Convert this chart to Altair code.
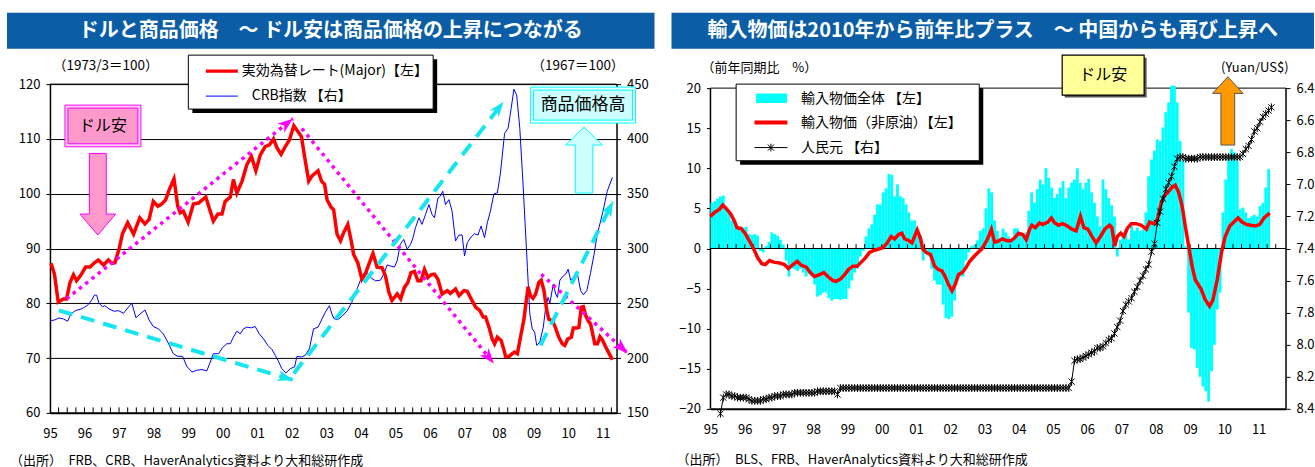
import math
import altair as alt
import pandas as pd

FONT = "Noto Sans CJK JP"
HEAD_BLUE = "#0B5EA6"
MAGENTA = "#FF00FF"
CYAN = "#14E6F0"

# ---------------------------------------------------------------
# Left panel: dollar effective rate (Major, 1973/3=100) and CRB index
# ---------------------------------------------------------------
usd_t = [1995.03, 1995.13, 1995.24, 1995.39, 1995.48, 1995.58, 1995.68, 1995.77, 1995.90,
         1996.03, 1996.16, 1996.29, 1996.40, 1996.55, 1996.69, 1996.79, 1996.88,
         1997.00, 1997.10, 1997.25, 1997.42, 1997.60, 1997.75, 1997.87, 1997.99,
         1998.12, 1998.23, 1998.35, 1998.45, 1998.59, 1998.70, 1998.77, 1998.86,
         1999.00, 1999.15, 1999.30, 1999.51, 1999.64, 1999.73, 1999.86, 1999.98,
         2000.07, 2000.22, 2000.31, 2000.41, 2000.56, 2000.70, 2000.83, 2000.96,
         2001.09, 2001.23, 2001.35, 2001.47, 2001.57, 2001.69, 2001.81, 2001.93,
         2002.06, 2002.15, 2002.28, 2002.37, 2002.49, 2002.58, 2002.76, 2002.86, 2002.95,
         2003.02, 2003.14, 2003.21, 2003.31, 2003.41, 2003.50, 2003.62, 2003.72, 2003.79, 2003.91,
         2004.03, 2004.13, 2004.23, 2004.35, 2004.47, 2004.61, 2004.71, 2004.81, 2004.90,
         2005.05, 2005.15, 2005.26, 2005.36, 2005.45, 2005.55, 2005.65, 2005.74, 2005.84, 2005.94,
         2006.03, 2006.13, 2006.23, 2006.35, 2006.50, 2006.59, 2006.74, 2006.84, 2006.98,
         2007.08, 2007.19, 2007.32, 2007.44, 2007.54, 2007.61, 2007.71, 2007.80, 2007.87, 2007.95,
         2008.06, 2008.14, 2008.19, 2008.29, 2008.38, 2008.45, 2008.53, 2008.62, 2008.72, 2008.84,
         2008.91, 2008.98, 2009.06, 2009.15, 2009.22, 2009.30, 2009.38, 2009.44, 2009.54, 2009.61,
         2009.73, 2009.83, 2009.90, 2009.99, 2010.09, 2010.15, 2010.25, 2010.31, 2010.38, 2010.44,
         2010.51, 2010.58, 2010.65, 2010.77, 2010.85, 2010.92, 2010.99, 2011.09, 2011.18, 2011.28]
usd_v = [87.3, 85.3, 80.2, 80.8, 80.8, 83.8, 85.2, 84.1, 85.2,
         86.6, 86.6, 87.4, 87.9, 87.0, 87.9, 87.3, 87.4,
         89.9, 92.7, 94.7, 92.6, 95.6, 94.5, 95.3, 98.6,
         97.7, 98.1, 98.9, 100.7, 102.7, 97.7, 96.5, 96.8,
         94.8, 98.1, 98.3, 99.4, 96.8, 95.0, 96.3, 96.3,
         98.6, 99.4, 102.6, 100.1, 102.3, 105.3, 106.8, 104.2,
         107.1, 108.6, 108.9, 110.0, 108.4, 107.2, 108.6, 109.8,
         112.4, 111.6, 110.4, 106.8, 102.3, 103.2, 104.2, 102.3, 101.7,
         98.9, 97.5, 97.1, 92.6, 91.4, 92.9, 94.4, 91.4, 88.9, 87.4,
         84.4, 85.4, 87.1, 89.1, 86.6, 86.5, 85.0, 82.0, 80.5,
         81.7, 80.8, 82.9, 83.8, 85.6, 85.8, 84.1, 84.1, 86.2, 84.7,
         85.2, 85.3, 84.4, 81.7, 82.3, 81.8, 82.6, 81.4, 82.3,
         82.2, 80.8, 79.3, 78.7, 77.5, 77.5, 75.6, 73.5, 72.6, 73.8,
         73.2, 71.5, 70.3, 70.3, 70.8, 71.1, 70.8, 73.8, 77.1, 83.0,
         81.3, 80.9, 81.7, 83.8, 84.2, 82.3, 78.7, 77.1, 76.8, 75.9,
         73.8, 72.6, 72.3, 73.5, 73.8, 75.5, 75.5, 75.6, 79.3, 79.4,
         77.7, 76.8, 76.2, 72.6, 72.6, 73.9, 73.3, 72.0, 70.9, 69.7]

crb_t = [1995.03, 1995.14, 1995.26, 1995.39, 1995.51, 1995.61, 1995.74, 1995.90,
         1996.00, 1996.11, 1996.21, 1996.29, 1996.35, 1996.42, 1996.52, 1996.59, 1996.71, 1996.86, 1996.98,
         1997.13, 1997.25, 1997.37, 1997.49, 1997.61, 1997.75, 1997.87, 1997.99,
         1998.14, 1998.28, 1998.41, 1998.57, 1998.70, 1998.84, 1998.96,
         1999.11, 1999.25, 1999.40, 1999.54, 1999.64, 1999.73, 1999.88, 1999.99,
         2000.12, 2000.22, 2000.31, 2000.41, 2000.51, 2000.60, 2000.70, 2000.83, 2000.94,
         2001.06, 2001.18, 2001.31, 2001.43, 2001.52, 2001.60, 2001.71, 2001.83, 2001.96,
         2002.08, 2002.15, 2002.28, 2002.39, 2002.51, 2002.63, 2002.76, 2002.86, 2002.97,
         2003.09, 2003.16, 2003.22, 2003.33, 2003.45, 2003.60, 2003.74, 2003.87, 2003.98,
         2004.08, 2004.18, 2004.28, 2004.42, 2004.57, 2004.68, 2004.76, 2004.86, 2004.97,
         2005.05, 2005.14, 2005.24, 2005.34, 2005.44, 2005.51, 2005.58, 2005.68, 2005.77, 2005.87, 2005.97,
         2006.06, 2006.13, 2006.23, 2006.30, 2006.37, 2006.45, 2006.55, 2006.64, 2006.74, 2006.84, 2006.93,
         2007.00, 2007.08, 2007.19, 2007.29, 2007.39, 2007.48, 2007.58, 2007.66, 2007.75, 2007.85, 2007.95,
         2008.04, 2008.16, 2008.26, 2008.35, 2008.43, 2008.51, 2008.60, 2008.70, 2008.82, 2008.89, 2008.96,
         2009.03, 2009.09, 2009.18, 2009.28, 2009.35, 2009.42, 2009.47, 2009.57, 2009.64, 2009.69,
         2009.76, 2009.86, 2009.93, 2010.00, 2010.07, 2010.17, 2010.27, 2010.36, 2010.44, 2010.54,
         2010.65, 2010.75, 2010.84, 2010.94, 2011.04, 2011.13, 2011.28]
crb_v = [234.2, 234.8, 236.6, 235.7, 233.6, 240.3, 243.3, 244.8,
         246.3, 248.8, 253.0, 257.5, 257.5, 250.0, 246.9, 247.8, 244.8, 242.7, 243.3,
         240.9, 245.7, 250.0, 236.7, 240.3, 243.9, 234.8, 228.8,
         226.7, 222.1, 214.6, 204.0, 201.6, 201.6, 192.5,
         187.3, 188.9, 189.5, 188.3, 196.4, 204.0, 204.0, 209.4,
         213.1, 213.1, 219.1, 224.6, 222.1, 226.7, 228.2, 227.6, 228.8,
         222.1, 217.6, 211.5, 207.6, 202.5, 197.9, 190.4, 186.4, 190.4,
         191.9, 201.6, 201.0, 202.5, 208.5, 226.7, 228.2, 234.8, 241.8,
         247.8, 240.3, 236.0, 235.0, 238.0, 243.0, 251.0, 261.5, 270.5,
         277.0, 278.0, 273.6, 270.5, 271.1, 278.0, 285.0, 284.0, 283.0,
         288.7, 303.8, 308.3, 299.3, 303.8, 309.9, 318.9, 328.0, 322.0, 331.0, 340.0,
         331.0, 328.0, 346.0, 347.7, 352.2, 340.0, 344.6, 334.0, 306.8, 312.3, 312.3,
         293.2, 305.3, 310.5, 313.5, 312.3, 320.4, 309.9, 323.5, 334.0, 349.8, 350.7,
         368.8, 405.1, 409.7, 427.8, 445.4, 439.9, 409.7, 355.2, 282.6, 240.3, 226.7,
         223.6, 211.5, 214.6, 228.2, 246.3, 255.4, 250.0, 267.5, 258.4, 255.4,
         271.1, 275.1, 276.6, 281.1, 271.1, 274.2, 276.6, 261.5, 257.8, 261.5,
         278.0, 294.7, 312.9, 325.0, 338.6, 352.2, 364.9]

# trend arrows drawn over the lines (start/end in left-axis units)
trend_id = ["usd_up", "usd_down", "usd_down2", "crb_down", "crb_up", "crb_up2"]
trend_kind = ["usd", "usd", "usd", "crb", "crb", "crb"]
trend_t0 = [1995.48, 2002.29, 2009.22, 1995.26, 2002.06, 2009.20]
trend_v0 = [80.8, 111.9, 85.3, 78.7, 67.2, 72.3]
trend_t1 = [2002.03, 2007.85, 2011.72, 2002.03, 2008.13, 2011.30]
trend_v1 = [113.7, 69.0, 70.9, 66.0, 116.8, 98.6]

# ---------------------------------------------------------------
# Right panel: US import prices (y/y %) and the yuan (Yuan/US$)
# ---------------------------------------------------------------
imp_total = [  # monthly from Jan 1995
    5.7, 5.9, 6.2, 6.5, 6.6, 5.0, 4.5, 3.5, 3.2, 2.8, 2.7, 2.6,
    2.7, 1.8, 1.7, 1.8, 1.6, -0.3, -0.5, 0.3, 0.8, 2.0, 1.8, 1.6,
    1.1, 0.5, -1.5, -3.5, -2.5, -2.6, -2.8, -2.5, -3.0, -3.5, -3.2, -3.5,
    -4.5, -6.0, -5.8, -5.5, -5.5, -6.2, -6.5, -6.3, -6.3, -6.4, -6.3, -6.3,
    -5.0, -4.0, -3.0, -2.5, -1.0, -0.3, 1.5, 2.5, 3.0, 4.2, 5.5, 5.5,
    7.0, 7.5, 9.3, 9.2, 6.5, 8.0, 6.5, 6.3, 5.5, 4.5, 3.5, 3.5,
    1.5, 1.7, -1.5, -0.5, -1.0, -2.5, -4.0, -4.5, -4.5, -7.0, -8.7, -8.8,
    -8.5, -6.5, -4.0, -3.5, -3.5, -1.5, -0.5, 0.3, 0.5, 1.0, 2.2, 2.5,
    5.0, 7.5, 7.0, 3.5, 2.2, 1.3, 2.5, 2.0, 1.5, 1.2, 2.5, 2.5,
    2.0, 1.5, 2.0, 4.7, 7.0, 5.7, 7.4, 8.6, 8.0, 10.0, 8.8, 7.6,
    6.3, 6.8, 7.6, 8.4, 6.3, 7.6, 8.2, 8.6, 10.0, 8.2, 7.4, 8.2,
    8.7, 7.0, 5.7, 4.0, 2.8, 8.6, 7.4, 6.3, 5.4, 4.0, -1.0, 1.1,
    2.0, 2.4, 1.1, 2.8, 2.2, 2.6, 2.2, 2.4, 4.5, 9.0, 11.1, 12.2,
    13.6, 13.4, 15.1, 17.0, 18.2, 20.3, 20.3, 18.2, 13.4, 10.9, 0.3, -8.0,
    -12.4, -12.6, -14.9, -16.0, -17.2, -17.8, -19.1, -15.3, -12.0, -7.6, -5.5, 4.5,
    8.6, 11.1, 12.4, 12.0, 10.9, 4.9, 5.1, 4.5, 3.8, 4.0, 4.2, 4.0,
    5.3, 5.7, 7.6, 9.9,
]

nonoil_m = [0, 1.4, 3.2, 4.3, 5.5, 7.2, 8.4, 9.3, 10.7, 12.1, 13.7, 15.2, 16.6, 18, 19.2,
            20.7, 22.2, 24.2, 25.9, 27.3, 28.9, 30.4, 31.8, 33.5, 35, 36.4, 38.2, 39.7,
            41.1, 42.9, 44, 45.6, 47, 48.4, 49.9, 51.4, 52.8, 54.2, 55.7, 57.2, 58.6,
            60.4, 61.9, 63.3, 64.5, 65.9, 67, 68, 69.4, 70.6, 72.4, 73.6, 74.4, 75.6,
            77.1, 78.5, 79.7, 81.1, 82.2, 83.4, 84.6, 85.7, 86.9, 88.1, 89.3, 90.8,
            92.3, 93.7, 94.9, 96, 97.2, 98.4, 99.5, 100.7, 102.1, 103.6, 105.1, 106.5,
            107.9, 109.4, 110.6, 111.8, 112.6, 113.8, 115.3, 116.4, 118.2, 119.4, 120.5,
            121.9, 123.4, 125, 126.6, 128.1, 129.6, 130.8, 132.2, 133.6, 135.1, 136.6,
            138.1, 139.8, 140.6, 141.6, 142.5, 143.7, 144.8, 146, 147.4, 149.1, 150.9,
            152.7, 153.8, 155.3, 156.5, 157.9, 159.1, 160.2, 161.6, 162.8, 164, 165.2,
            166.3, 167.5, 168.7, 169.8, 171.9, 173.3, 174.8, 176, 177.5, 179, 180.3,
            181.9, 183.6, 184.8, 186.2, 187.7, 189.2, 190.9, 192.4, 193.9, 195.9]
nonoil_v = [4.0, 4.5, 4.9, 5.4, 5.0, 4.25, 3.4, 2.6, 2.5, 1.9, 0.9, -0.1, -1.2, -1.9, -2.0,
            -1.5, -1.7, -1.8, -2.0, -2.5, -2.0, -1.6, -2.1, -2.3, -3.0, -3.5, -3.25, -3.0,
            -3.5, -4.0, -4.1, -3.8, -3.25, -2.6, -2.2, -2.2, -1.7, -1.2, -0.5, -0.25, -0.1,
            0.1, 0.7, 1.5, 1.2, 1.75, 1.9, 1.2, 1.0, 0.7, 2.3, 1.2, -0.1, -0.5,
            -0.75, -2.2, -2.6, -2.8, -3.5, -4.5, -5.3, -4.5, -3.25, -3.0, -2.5, -1.6,
            -1.0, -0.5, -0.1, 0.5, 1.3, 2.4, 0.8, 0.9, 1.2, 1.0, 0.95, 1.3,
            1.9, 1.75, 1.1, 2.4, 2.9, 2.6, 3.2, 3.0, 3.3, 3.8, 3.2,
            2.9, 3.1, 2.8, 2.4, 2.2, 4.0, 2.6, 2.4, 1.5, 0.7, 1.5,
            2.4, 2.9, 2.6, 0.3, 1.5, 1.9, 1.5, 2.5, 3.1, 3.1, 2.9,
            2.4, 3.3, 3.1, 3.6, 5.7, 6.6, 7.0, 7.6, 7.9, 7.0, 5.3,
            2.8, 0.3, -2.2, -3.9, -5.1, -6.4, -7.2, -6.4, -3.9, -0.5, 1.5,
            2.8, 3.4, 3.8, 3.3, 3.0, 2.9, 2.8, 3.0, 3.8, 4.4]

rmb_first_month = 3  # series starts in Apr 1995
rmb = [
    8.43, 8.33, 8.31, 8.31, 8.32, 8.32, 8.33, 8.33, 8.33,
    8.33, 8.34, 8.35, 8.35, 8.35, 8.35, 8.34, 8.34, 8.33, 8.33, 8.32, 8.32,
    8.32, 8.31, 8.31, 8.31, 8.31, 8.30, 8.30, 8.30, 8.30, 8.30, 8.30, 8.30,
    8.30, 8.29, 8.29, 8.29, 8.29, 8.29, 8.29, 8.29, 8.31, 8.27, 8.27, 8.27,
    8.27, 8.27, 8.27, 8.27, 8.27, 8.27, 8.27, 8.27, 8.27, 8.27, 8.27, 8.27,
    8.27, 8.27, 8.27, 8.27, 8.27, 8.27, 8.27, 8.27, 8.27, 8.27, 8.27, 8.27,
    8.27, 8.27, 8.27, 8.27, 8.27, 8.27, 8.27, 8.27, 8.27, 8.27, 8.27, 8.27,
    8.27, 8.27, 8.27, 8.27, 8.27, 8.27, 8.27, 8.27, 8.27, 8.27, 8.27, 8.27,
    8.27, 8.27, 8.27, 8.27, 8.27, 8.27, 8.27, 8.27, 8.27, 8.27, 8.27, 8.27,
    8.27, 8.27, 8.27, 8.27, 8.27, 8.27, 8.27, 8.27, 8.27, 8.27, 8.27, 8.27,
    8.27, 8.27, 8.27, 8.27, 8.27, 8.27, 8.23, 8.10, 8.09, 8.09, 8.08, 8.07,
    8.06, 8.05, 8.04, 8.02, 8.02, 8.01, 7.99, 7.97, 7.96, 7.93, 7.89, 7.85,
    7.79, 7.75, 7.73, 7.71, 7.67, 7.64, 7.60, 7.57, 7.53, 7.50, 7.42, 7.37,
    7.24, 7.17, 7.09, 7.03, 6.99, 6.95, 6.89, 6.84, 6.83, 6.83, 6.84, 6.84,
    6.84, 6.84, 6.84, 6.83, 6.83, 6.83, 6.83, 6.83, 6.83, 6.83, 6.83, 6.83,
    6.83, 6.83, 6.83, 6.83, 6.83, 6.83, 6.81, 6.78, 6.76, 6.72, 6.67, 6.65,
    6.61, 6.58, 6.56, 6.54, 6.52,
]

YEARS = list(range(1995, 2012))

# ---------------------------------------------------------------
# geometry of the two plot areas (pixels)
# ---------------------------------------------------------------
LW, LH = 567, 329
RW, RH = 576, 321
R_TOP = 4                       # right frame starts this far below the view top
RH_VIEW = RH + R_TOP
R_EXTRA = R_TOP * 40.0 / RH     # value units above +20 that fill that strip

XL = alt.Scale(domain=[1995, 2011.4], nice=False, zero=False)
YL = alt.Scale(domain=[60, 120], nice=False, zero=False)
YC = alt.Scale(domain=[150, 450], nice=False, zero=False)
XR = alt.Scale(domain=[1995, 2011.8], nice=False, zero=False)
YR = alt.Scale(domain=[-20, 20 + R_EXTRA], nice=False, zero=False)
YY = alt.Scale(domain=[6.4 - R_EXTRA / 20.0, 8.4], reverse=True, nice=False, zero=False)

ONE = pd.DataFrame({"z": [0]})

# symbol paths (unit square), scaled by sqrt(size)/2
HEAD = "M0,0L0.62,1.7L0,1.2L-0.62,1.7Z"
ASTER = "M-0.8,-0.8L0.8,0.8M-0.8,0.8L0.8,-0.8M0,-1L0,1"
DOWN_PINK = "M-0.207,-1L0.207,-1L0.207,0.486L0.437,0.486L0,1L-0.437,0.486L-0.207,0.486Z"
UP_CYAN = "M-0.265,1L0.265,1L0.265,-0.455L0.56,-0.455L0,-1L-0.56,-0.455L-0.265,-0.455Z"
UP_ORANGE = "M-0.202,1L0.202,1L0.202,-0.514L0.447,-0.514L0,-1L-0.447,-0.514L-0.202,-0.514Z"


def rect(x1, x2, y1, y2, **style):
    return alt.Chart(ONE).mark_rect(**style).encode(
        x=alt.value(x1), x2=alt.value(x2), y=alt.value(y1), y2=alt.value(y2))


def label(x, y, s, size=13, align="left", color="black", weight="normal"):
    return alt.Chart(ONE).mark_text(
        font=FONT, fontSize=size, align=align, baseline="middle",
        color=color, fontWeight=weight).encode(
        x=alt.value(x), y=alt.value(y), text=alt.value(s))


def hline(x1, x2, y, color="black", width=1.0):
    return alt.Chart(ONE).mark_rule(color=color, strokeWidth=width).encode(
        x=alt.value(x1), x2=alt.value(x2), y=alt.value(y))


def vline(x, y1, y2, color="black", width=1.0):
    return alt.Chart(ONE).mark_rule(color=color, strokeWidth=width).encode(
        x=alt.value(x), y=alt.value(y1), y2=alt.value(y2))


def symbol(x, y, path, size, fill, stroke, width=1.0):
    return alt.Chart(ONE).mark_point(
        shape=path, size=size, filled=True, fill=fill, stroke=stroke,
        strokeWidth=width, opacity=1).encode(x=alt.value(x), y=alt.value(y))


def year_axis(pad):
    return alt.Axis(values=YEARS, labelExpr="substring(toString(datum.value), 2, 4)",
                    ticks=False, grid=False, domain=True, domainColor="black",
                    domainWidth=2, labelFont=FONT, labelFontSize=13, labelColor="black",
                    labelPadding=pad, labelFlush=False, labelOverlap=False, title=None)


def value_axis(orient, values, fmt=None, domain=True, grid=False):
    kw = dict(orient=orient, values=values, tickSize=4, tickColor="black", tickWidth=1,
              domain=domain, domainColor="black", domainWidth=1.5, grid=grid,
              labelFont=FONT, labelFontSize=13, labelColor="black", labelPadding=6,
              title=None)
    if grid:
        kw.update(gridColor="black", gridWidth=1, gridOpacity=1)
    if fmt:
        kw["format"] = fmt
    return alt.Axis(**kw)


# ---------------------------------------------------------------
# left panel
# ---------------------------------------------------------------
usd_df = pd.DataFrame({"t": usd_t, "v": usd_v})
crb_df = pd.DataFrame({"t": crb_t, "v": crb_v})

kx = LW / (2011.4 - 1995)
ky = LH / 60.0
seg_rows, head_rows = [], []
for i, name in enumerate(trend_id):
    seg_rows.append({"id": name, "kind": trend_kind[i], "o": 0, "t": trend_t0[i], "v": trend_v0[i]})
    seg_rows.append({"id": name, "kind": trend_kind[i], "o": 1, "t": trend_t1[i], "v": trend_v1[i]})
    dx = (trend_t1[i] - trend_t0[i]) * kx
    dy = -(trend_v1[i] - trend_v0[i]) * ky
    ang = math.degrees(math.atan2(dx, -dy)) % 360
    head_rows.append({"id": name, "kind": trend_kind[i], "t": trend_t1[i], "v": trend_v1[i], "ang": ang})
seg_df = pd.DataFrame(seg_rows)
head_df = pd.DataFrame(head_rows)

quarters_l = pd.DataFrame({"t": [1995 + k / 4 for k in range(1, 66)], "a": 60.0, "b": 61.0})

xl = alt.X("t:Q", scale=XL, axis=None)

crb_line = alt.Chart(crb_df).mark_line(color="#0000FF", strokeWidth=1).encode(
    x=alt.X("t:Q", scale=XL, axis=year_axis(15)),
    y=alt.Y("v:Q", scale=YC, axis=value_axis("right", list(range(150, 451, 50)))))

usd_line = alt.Chart(usd_df).mark_line(color="#FF0000", strokeWidth=3.5).encode(
    x=xl, y=alt.Y("v:Q", scale=YL, axis=value_axis("left", list(range(60, 121, 10)), grid=True)))

dotted = alt.Chart(seg_df[seg_df.kind == "usd"]).mark_line(
    color=MAGENTA, strokeWidth=3.5, strokeDash=[3.5, 4.5]).encode(
    x=xl, y=alt.Y("v:Q", scale=YL, axis=None), detail="id:N", order="o:Q")
dashed = alt.Chart(seg_df[seg_df.kind == "crb"]).mark_line(
    color=CYAN, strokeWidth=4, strokeDash=[14, 9]).encode(
    x=xl, y=alt.Y("v:Q", scale=YL, axis=None), detail="id:N", order="o:Q")
heads = alt.Chart(head_df).mark_point(
    shape=HEAD, size=330, filled=True, opacity=1, strokeWidth=0).encode(
    x=xl, y=alt.Y("v:Q", scale=YL, axis=None),
    angle=alt.Angle("ang:Q", scale=None),
    color=alt.Color("kind:N", scale=alt.Scale(domain=["usd", "crb"], range=[MAGENTA, CYAN]),
                    legend=None))

ticks_l = alt.Chart(quarters_l).mark_rule(color="black", strokeWidth=1).encode(
    x=xl, y=alt.Y("a:Q", scale=YL, axis=None), y2="b:Q")

left = alt.layer(
    rect(-43, 605, -71.5, -35.5, fill=HEAD_BLUE),
    label(281, -53.5, "ドルと商品価格　～ ドル安は商品価格の上昇につながる",
          size=20, align="center", color="white", weight="bold"),
    label(3, -18, "（1973/3＝100）", size=13.5),
    label(482, -18, "（1967＝100）", size=13.5),
    hline(0, LW, 0, width=1),
    crb_line,
    usd_line,
    dotted,
    dashed,
    heads,
    ticks_l,
    # "dollar weakness" box and arrow
    rect(15, 91, 21, 62.7, fill="#FFD2EE", stroke=MAGENTA, strokeWidth=1),
    rect(18, 88, 24, 59.7, fill="#FF99CC", stroke=MAGENTA, strokeWidth=1),
    label(53, 42, "ドル安", size=16, align="center"),
    symbol(47.9, 110.2, DOWN_PINK, 6675, "#FF99CC", MAGENTA),
    # "commodity prices up" box and arrow
    rect(481, 586, 3, 39, fill="#E8FFFF", stroke="#00FFFF", strokeWidth=1),
    rect(484, 583, 6, 36, fill="#CCFFFF", stroke="#00FFFF", strokeWidth=1),
    label(533.5, 21, "商品価格高", size=17, align="center"),
    symbol(534.5, 76, UP_CYAN, 4356, "#CCFFFF", "#00FFFF"),
    # legend
    rect(142.5, 387.5, -25, 29, fill="black"),
    rect(138.5, 383.5, -29, 25, fill="white", stroke="black", strokeWidth=1),
    hline(156, 188, -13, color="#FF0000", width=3.5),
    label(192, -13, "実効為替レート(Major)【左】", size=14),
    hline(156, 188, 12, color="#0000FF", width=1),
    label(202, 12, "CRB指数 【右】", size=14),
    label(-40, 377, "（出所）　FRB、CRB、HaverAnalytics資料より大和総研作成", size=13),
).resolve_scale(x="independent", y="independent", color="independent").properties(
    width=LW, height=LH)

# ---------------------------------------------------------------
# right panel (view starts R_TOP px above the frame)
# ---------------------------------------------------------------
T = R_TOP
bar_df = pd.DataFrame({"m": range(len(imp_total)), "v": imp_total})
bar_df["t0"] = 1995 + bar_df["m"] / 12
bar_df["t1"] = bar_df["t0"] + 1 / 12
nonoil_df = pd.DataFrame({"t": [1995 + m / 12 for m in nonoil_m], "v": nonoil_v})
rmb_df = pd.DataFrame({"t": [1995 + (rmb_first_month + i + 0.5) / 12 for i in range(len(rmb))],
                       "v": rmb})
quarters_r = pd.DataFrame({"t": [1995 + k / 4 for k in range(1, 67)], "a": 0.0, "b": 0.55})

xr = alt.X("t:Q", scale=XR, axis=None)

bars = alt.Chart(bar_df).mark_rect(color="#00FFFF").encode(
    x=alt.X("t0:Q", scale=XR, axis=year_axis(15)), x2="t1:Q",
    y=alt.Y("v:Q", scale=YR, axis=value_axis(
        "left", list(range(-20, 21, 5)), domain=False)), y2=alt.Y2(datum=0))
zero = alt.Chart(ONE).mark_rule(color="black", strokeWidth=1).encode(
    y=alt.Y("z:Q", scale=YR, axis=None))
ticks_r = alt.Chart(quarters_r).mark_rule(color="black", strokeWidth=1).encode(
    x=xr, y=alt.Y("a:Q", scale=YR, axis=None), y2="b:Q")
nonoil = alt.Chart(nonoil_df).mark_line(color="#FF0000", strokeWidth=3.5).encode(
    x=xr, y=alt.Y("v:Q", scale=YR, axis=None))
rmb_line = alt.Chart(rmb_df).mark_line(color="black", strokeWidth=1).encode(
    x=xr, y=alt.Y("v:Q", scale=YY, axis=value_axis(
        "right", [round(6.4 + 0.2 * i, 1) for i in range(11)], ".1f", domain=False)))
rmb_pts = alt.Chart(rmb_df).mark_point(
    shape=ASTER, size=60, filled=False, stroke="black", strokeWidth=1, opacity=1).encode(
    x=xr, y=alt.Y("v:Q", scale=YY, axis=None))

right = alt.layer(
    rect(-39, 604, -71.5, -35.5, fill=HEAD_BLUE),
    label(282.5, -53.5, "輸入物価は2010年から前年比プラス　～ 中国からも再び上昇へ",
          size=20, align="center", color="white", weight="bold"),
    label(-9, T - 20, "（前年同期比　%）", size=13),
    label(511, T - 20, "(Yuan/US$)", size=13),
    hline(0, RW, T, width=1),
    vline(0, T, RH_VIEW, width=1.5),
    vline(RW, T, RH_VIEW, width=1.5),
    bars,
    zero,
    ticks_r,
    nonoil,
    rmb_line,
    rmb_pts,
    # legend
    rect(29.7, 273, T + 0, T + 76.7, fill="black"),
    rect(25.7, 269, T - 4, T + 72.7, fill="white", stroke="black", strokeWidth=1),
    rect(45.7, 76.7, T + 5.5, T + 15, fill="#00FFFF"),
    label(90.7, T + 10.5, "輸入物価全体 【左】", size=14),
    hline(44, 77, T + 34.5, color="#FF0000", width=4),
    label(90.7, T + 34.5, "輸入物価（非原油）【左】", size=14),
    hline(44, 77, T + 59.5, color="black", width=1),
    alt.Chart(ONE).mark_point(shape=ASTER, size=60, filled=False, stroke="black",
                              strokeWidth=1, opacity=1).encode(
        x=alt.value(60.5), y=alt.value(T + 59.5)),
    label(90.7, T + 59.5, "人民元 【右】", size=14),
    # "dollar weakness" note and arrow
    rect(354.5, 436.5, T - 30.5, T + 9.5, fill="#555555"),
    rect(352, 434, T - 33, T + 7, fill="#FFFF99", stroke="black", strokeWidth=1.2),
    label(393, T - 13, "ドル安", size=16, align="center"),
    symbol(517.75, T + 22.85, UP_ORANGE, 4665, "#FF9900", "#555555"),
    label(-34, T + 372, "（出所）　BLS、FRB、HaverAnalytics資料より大和総研作成", size=13),
).resolve_scale(x="independent", y="independent").properties(width=RW, height=RH_VIEW)

chart = alt.hconcat(left, right, spacing=17).properties(
    padding={"left": 7, "top": 12, "right": 0, "bottom": 0},
    background="white",
).configure_view(stroke=None)

chart.save("out.html", embed_options={"renderer": "svg", "actions": False})
